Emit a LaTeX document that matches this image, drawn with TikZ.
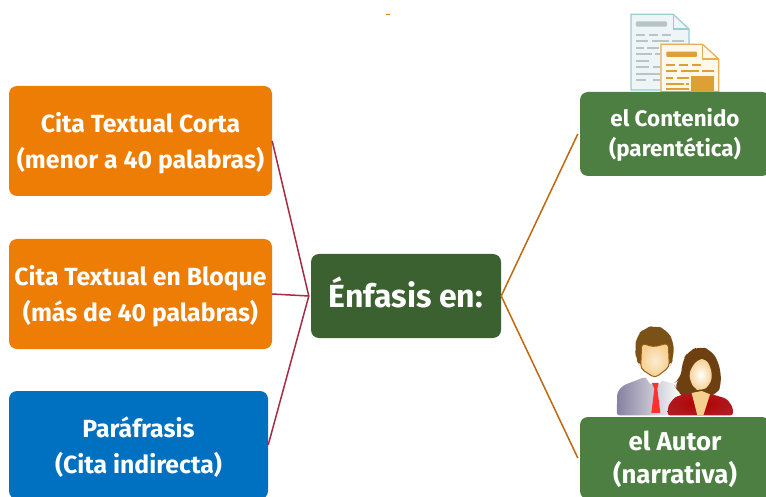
\documentclass[tikz,border=0pt]{standalone}
\usepackage{fontspec}
\setmainfont{Fira Sans}
\definecolor{cOrange}{HTML}{ED7D05}
\definecolor{cBlue}{HTML}{0070C0}
\definecolor{cDark}{HTML}{3B6130}
\definecolor{cGreen}{HTML}{4D7F42}
\definecolor{cRed}{HTML}{A52C44}
\definecolor{cLine}{HTML}{C0680F}
\definecolor{dBorder}{HTML}{9CCBD3}
\definecolor{dFill}{HTML}{EDF5F7}
\definecolor{dGray}{HTML}{B8C4C8}
\definecolor{eBorder}{HTML}{E3AE55}
\definecolor{eFill}{HTML}{FEF8EA}
\definecolor{eDark}{HTML}{DCA035}
\definecolor{hMan}{HTML}{7A5218}
\definecolor{hWoman}{HTML}{6E3F10}
\definecolor{skin}{HTML}{F6CF8E}
\definecolor{suit}{HTML}{85809F}
\definecolor{dress}{HTML}{B01A20}
\newcommand{\topstrut}[1]{\rule{0pt}{#1}}
\tikzset{
 box/.style={draw=none,rounded corners=8pt,text=white,align=center,font=\bfseries\fontsize{24.8}{36}\selectfont,inner sep=0pt},
 redline/.style={cRed,line width=1.5pt},
 orline/.style={cLine,line width=1.5pt},
}
\begin{document}
\begin{tikzpicture}[x=1pt,y=-1pt]
\useasboundingbox (0,0) rectangle (766,497);
\clip (0,0) rectangle (766,497);
\fill[white] (0,0) rectangle (766,497);
\fill[cOrange] (386,14) rectangle (390,15);
% document icons
\begin{scope}[shift={(560,0)},x=.3333pt,y=-.3333pt]
 \filldraw[fill=dFill,draw=dBorder,line width=1.2pt] (213,43)--(340,43)--(387,87)--(387,270)--(213,270)--cycle;
 \draw[dBorder,line width=1.2pt] (340,43)--(340,87)--(387,87);
 \fill[dGray,rounded corners=1pt] (228,64) rectangle (321,80);
 \foreach \a/\b/\y in {228/256/105,268/295/105,307/334/105,228/264/124,275/326/124,336/371/124,228/252/143,262/298/143,228/275/163,284/300/163,228/268/183,228/268/202,280/300/202,228/300/222,228/258/241,278/300/241}
  \fill[dGray] (\a,\y-3) rectangle (\b,\y+3);
 \filldraw[fill=eFill,draw=eBorder,line width=1.2pt] (303,133)--(428,133)--(476,177)--(476,275)--(303,275)--cycle;
 \draw[eBorder,line width=1.2pt] (428,133)--(428,177)--(476,177);
 \fill[eDark,rounded corners=1pt] (319,155) rectangle (411,171);
 \foreach \a/\b/\y in {319/345/195,358/384/195,396/422/195,319/352/214,364/416/214,426/462/214,319/340/234,352/388/234,319/372/253,378/388/253,319/388/268}
  \fill[eDark] (\a,\y-3) rectangle (\b,\y+3);
 \fill[eDark] (393,228) rectangle (462,272);
\end{scope}
% people icon
\begin{scope}[shift={(560,317)},x=.3333pt,y=-.3333pt]
 \shade[left color=suit,right color=white,rounded corners=3pt] (170,295)--(172,225)--(190,205)--(255,180)--(365,205)--(365,295)--cycle;
 \fill[white] (255,178)--(310,178)--(300,200)--(270,200)--cycle;
 \fill[red!75!pink] (276,198)--(296,198)--(292,215)--(301,288)--(274,288)--(283,215)--cycle;
 \fill[hMan,rounded corners=8pt] (225,95)--(230,55)--(255,33)--(285,25)--(320,38)--(342,75)--(340,125)--(330,150)--(240,150)--(228,125)--cycle;
 \shade[inner color=white!60!skin,outer color=skin,draw=hMan!80!orange,line width=1pt,rounded corners=4pt] (245,78)--(280,90)--(325,78)--(328,150)--(285,183)--(242,155)--cycle;
 \fill[hWoman,rounded corners=8pt] (368,130)--(385,102)--(420,88)--(455,100)--(478,140)--(485,200)--(470,235)--(375,245)--(355,225)--(340,200)--(362,185)--cycle;
 \shade[inner color=white,outer color=skin,rounded corners=6pt] (385,170)--(410,128)--(440,125)--(458,170)--(450,205)--(425,222)--(400,215)--cycle;
 \shade[inner color=red!70!black,outer color=dress,rounded corners=3pt] (322,295)--(325,265)--(345,240)--(395,225)--(420,262)--(450,230)--(500,245)--(518,270)--(520,295)--cycle;
 \fill[skin] (395,228)--(425,222)--(450,232)--(430,295)--(412,295)--cycle;
\end{scope}
% nodes
\node[box,fill=cOrange,minimum width=263pt,minimum height=110pt] (a) at (140.5,141) {\topstrut{24pt}Cita Textual Corta\\(menor a 40 palabras)};
\node[box,fill=cOrange,minimum width=263pt,minimum height=110pt] (b) at (140.5,294) {\topstrut{24pt}Cita Textual en Bloque\\(más de 40 palabras)};
\node[box,fill=cBlue,minimum width=259pt,minimum height=108pt] (c) at (138.5,445) {\topstrut{24pt}Paráfrasis\\(Cita indirecta)};
\node[box,fill=cDark,minimum width=190pt,minimum height=84pt,font=\bfseries\fontsize{32}{38}\selectfont] (m) at (406,296) {\rule[-8pt]{0pt}{8pt}Énfasis en:};
\node[box,fill=cGreen,minimum width=190pt,minimum height=84pt,font=\bfseries\fontsize{22.4}{30}\selectfont] (p) at (675,134) {\topstrut{19pt}el Contenido\\(parentética)};
\node[box,fill=cGreen,minimum width=190pt,minimum height=82pt,font=\bfseries\fontsize{25.8}{33}\selectfont] (q) at (675,458) {\topstrut{23pt}el Autor\\(narrativa)};
% connectors
\draw[redline] (a.east) -- ([xshift=-2pt]m.west);
\draw[redline] (b.east) -- ([xshift=-2pt]m.west);
\draw[redline] (c.east) -- ([xshift=-2pt]m.west);
\draw[orline] (m.east) -- ([xshift=-2pt]p.west);
\draw[orline] (m.east) -- ([xshift=-2pt]q.west);
\end{tikzpicture}
\end{document}
